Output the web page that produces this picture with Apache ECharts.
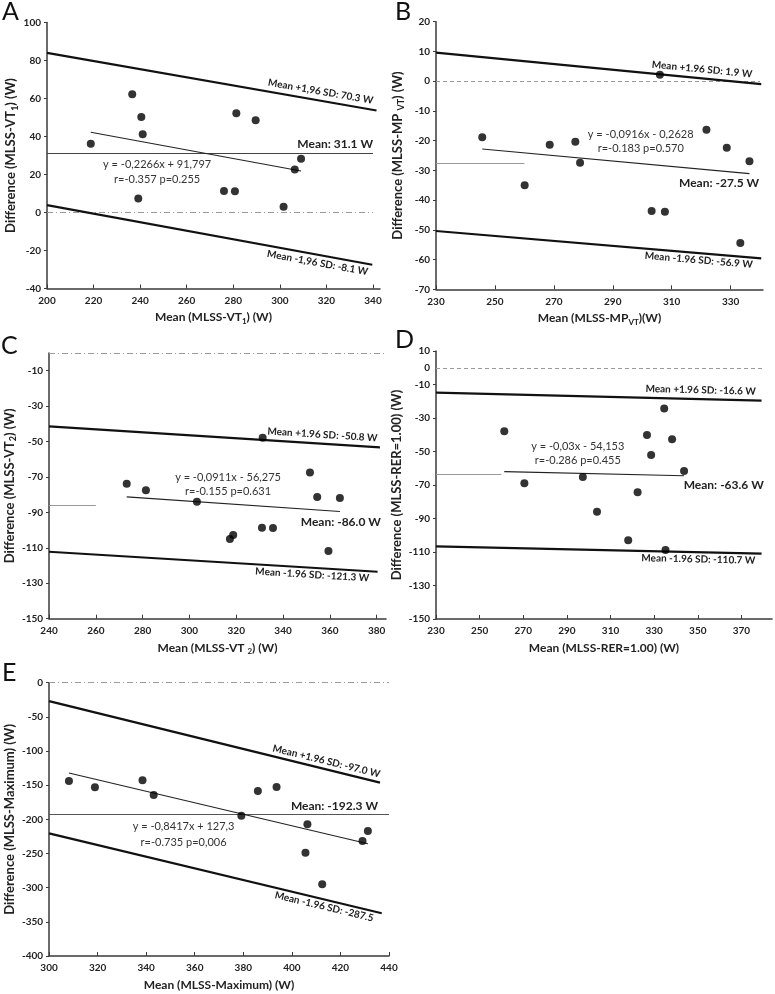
<!DOCTYPE html>
<html>
<head>
<meta charset="utf-8">
<title>Bland-Altman plots MLSS</title>
<script src="https://cdn.jsdelivr.net/npm/echarts@6/dist/echarts.min.js"></script>
<style>
  html, body { margin: 0; padding: 0; background: #fff; }
  #chart { width: 775px; height: 994px; }
</style>
</head>
<body>
<div id="chart"></div>
<script>
// ---- A: MLSS - VT1
var aMean = [218.8, 236.6, 240.5, 241.1, 239.2, 281.3, 289.6, 276.0, 280.7, 301.6, 306.4, 309.1];
var aDiff = [36.2, 62.3, 50.2, 41.2, 7.4, 52.3, 48.6, 11.3, 11.2, 3.0, 22.6, 28.3];
var aXTicks = [200, 220, 240, 260, 280, 300, 320, 340];
var aYTicks = [-40, -20, 0, 20, 40, 60, 80, 100];
var aUpper = [[200, 84.0], [341.5, 53.7]];
var aLower = [[200, 3.9], [339.7, -27.5]];
var aFit = [[218.8, 42.2], [309.1, 21.8]];
var aBias = [[200, 31.1], [340, 31.1]];
var aZero = [[200, 0], [340, 0]];

// ---- B: MLSS - MP VT
var bMean = [245.7, 260.1, 268.6, 277.3, 278.9, 306.0, 303.2, 307.7, 321.8, 328.7, 336.4, 333.3];
var bDiff = [-18.9, -35.0, -21.4, -20.4, -27.4, 2.2, -43.7, -43.9, -16.3, -22.4, -26.9, -54.4];
var bXTicks = [230, 250, 270, 290, 310, 330];
var bYTicks = [-70, -60, -50, -40, -30, -20, -10, 0, 10, 20];
var bUpper = [[230, 9.6], [340.4, -1.0]];
var bLower = [[230, -50.4], [340.4, -59.6]];
var bFit = [[245.7, -22.8], [336.4, -31.1]];
var bBias = [[230, -27.5], [260, -27.5]];
var bZero = [[230, 0], [340, 0]];

// ---- C: MLSS - VT2
var cMean = [273.2, 281.4, 303.2, 317.3, 318.7, 331.0, 335.7, 331.3, 351.5, 354.6, 364.3, 359.4];
var cDiff = [-73.8, -77.5, -84.0, -105.0, -102.8, -98.6, -98.8, -47.8, -67.4, -81.3, -81.9, -111.8];
var cXTicks = [240, 260, 280, 300, 320, 340, 360, 380];
var cYTicks = [-150, -130, -110, -90, -70, -50, -30, -10];
var cUpper = [[240, -41.4], [381.4, -53.3]];
var cLower = [[240, -112.2], [380.4, -123.5]];
var cFit = [[273.2, -81.2], [364.3, -89.5]];
var cBias = [[240, -86.0], [260, -86.0]];
var cZero = [[240, 0], [384, 0]];

// ---- D: MLSS - RER=1.00
var dMean = [261.3, 270.5, 297.3, 303.8, 318.1, 322.4, 326.7, 328.6, 334.6, 338.2, 343.7, 335.2];
var dDiff = [-37.9, -69.0, -65.2, -85.9, -103.0, -74.3, -40.1, -52.1, -24.3, -42.7, -61.6, -108.8];
var dXTicks = [230, 250, 270, 290, 310, 330, 350, 370];
var dYTicks = [-150, -130, -110, -90, -70, -50, -30, -10, 10];
var dYLabels = [-150, -130, -110, -90, -70, -50, -30, -10, 0, 10];
var dUpper = [[230, -14.8], [379.2, -19.6]];
var dLower = [[230, -106.6], [379.2, -111.0]];
var dFit = [[261.3, -62.0], [343.7, -64.5]];
var dBias = [[230, -63.6], [260, -63.6]];
var dZero = [[230, 0], [380, 0]];

// ---- E: MLSS - Maximum
var eMean = [308.2, 318.9, 338.5, 343.1, 379.2, 386.0, 393.7, 406.4, 405.6, 412.5, 429.1, 431.3];
var eDiff = [-143.9, -153.1, -142.9, -164.3, -194.6, -158.5, -152.6, -207.3, -248.8, -295.1, -231.7, -217.0];
var eXTicks = [300, 320, 340, 360, 380, 400, 420, 440];
var eYTicks = [-400, -350, -300, -250, -200, -150, -100, -50, 0];
var eUpper = [[300, -27.0], [436.3, -146.3]];
var eLower = [[300, -220.5], [437, -337.5]];
var eFit = [[308.2, -132.1], [431.3, -235.7]];
var eBias = [[300, -192.3], [440, -192.3]];
var eZero = [[300, 0], [440, 0]];

var FONT = 'Lato';
var INK = '#222';
var DASH = [4, 3];
var DASHDOT = [6, 3, 1, 3];

var panels = [
  {
    letter: 'A', letterAt: [2, -1],
    grid: { left: 47, top: 22.5, width: 333, height: 266 },
    xRange: [200, 343], yRange: [-40, 100],
    xTicks: aXTicks, yTicks: aYTicks, yLabels: aYTicks,
    xName: 'Mean (MLSS-VT{s|1}) (W)', yName: 'Difference (MLSS-VT{s|1}) (W)', yGap: 26,
    mean: aMean, diff: aDiff, upper: aUpper, lower: aLower, fit: aFit, bias: aBias, zero: aZero,
    zeroType: DASHDOT, biasColor: '#444',
    upperText: 'Mean +1,96 SD: 70.3 W', upperDist: [5, 4],
    lowerText: 'Mean -1,96 SD: -8.1 W', lowerDist: [3, 3],
    biasText: 'Mean: 31.1 W', biasDist: [0, 3],
    eqText: 'y = -0,2266x + 91,797\nr=-0.357 p=0.255', eqAt: [247.3, 21.0], eqLH: 14.3
  },
  {
    letter: 'B', letterAt: [395, -1],
    grid: { left: 436, top: 21.7, width: 327, height: 267.6 },
    xRange: [230, 341], yRange: [-70, 20],
    xTicks: bXTicks, yTicks: bYTicks, yLabels: bYTicks,
    xName: 'Mean (MLSS-MP{s|VT})(W)', yName: 'Difference (MLSS-MP {s|VT}) (W)', yGap: 30,
    mean: bMean, diff: bDiff, upper: bUpper, lower: bLower, fit: bFit, bias: bBias, zero: bZero,
    zeroType: DASH, biasColor: '#999',
    upperText: 'Mean +1.96 SD: 1.9 W', upperDist: [10, 4],
    lowerText: 'Mean -1.96 SD: -56.9 W', lowerDist: [8, 2],
    biasText: 'Mean: -27.5 W', biasAt: [326.1, -34.6],
    eqText: 'y = -0,0916x - 0,2628\nr=-0.183 p=0.570', eqAt: [299.5, -20.5], eqLH: 14
  },
  {
    letter: 'C', letterAt: [1, 333],
    grid: { left: 46, top: 353, width: 340, height: 265.7 },
    xRange: [240, 384], yRange: [-150, 0],
    xTicks: cXTicks, yTicks: cYTicks, yLabels: cYTicks,
    xName: 'Mean (MLSS-VT {s|2}) (W)', yName: 'Difference (MLSS-VT{s|2}) (W)', yGap: 26,
    mean: cMean, diff: cDiff, upper: cUpper, lower: cLower, fit: cFit, bias: cBias, zero: cZero,
    zeroType: DASHDOT, biasColor: '#999',
    upperText: 'Mean +1.96 SD: -50.8 W', upperDist: [3, 4],
    lowerText: 'Mean -1.96 SD: -121.3 W', lowerDist: [8, 2],
    biasText: 'Mean: -86.0 W', biasAt: [364.7, -95.8],
    eqText: 'y = -0,0911x - 56,275\nr=-0.155 p=0.631', eqAt: [316.5, -74.5], eqLH: 13.4
  },
  {
    letter: 'D', letterAt: [395, 327],
    grid: { left: 436, top: 351, width: 336, height: 268 },
    xRange: [230, 384], yRange: [-150, 10],
    xTicks: dXTicks, yTicks: dYTicks, yLabels: dYLabels,
    xName: 'Mean (MLSS-RER=1.00) (W)', yName: 'Difference (MLSS-RER=1.00) (W)', yGap: 29,
    mean: dMean, diff: dDiff, upper: dUpper, lower: dLower, fit: dFit, bias: dBias, zero: dZero,
    zeroType: DASH, biasColor: '#999',
    upperText: 'Mean +1.96 SD: -16.6 W', upperDist: [6, 4],
    lowerText: 'Mean -1.96 SD: -110.7 W', lowerDist: [6, 2],
    biasText: 'Mean: -63.6 W', biasAt: [361.9, -70.2],
    eqText: 'y = -0,03x - 54,153\nr=-0.286 p=0.455', eqAt: [295, -51.5], eqLH: 14.5
  },
  {
    letter: 'E', letterAt: [2, 660],
    grid: { left: 46, top: 682.7, width: 343, height: 273.3 },
    xRange: [300, 440], yRange: [-400, 0],
    xTicks: eXTicks, yTicks: eYTicks, yLabels: eYTicks,
    xName: 'Mean (MLSS-Maximum) (W)', yName: 'Difference (MLSS-Maximum) (W)', yGap: 26,
    mean: eMean, diff: eDiff, upper: eUpper, lower: eLower, fit: eFit, bias: eBias, zero: eZero,
    zeroType: DASHDOT, biasColor: '#555',
    upperText: 'Mean +1.96 SD: -97.0 W', upperDist: [2, 3],
    lowerText: 'Mean -1.96 SD: -287.5', lowerDist: [7, 2],
    biasText: 'Mean: -192.3 W', biasDist: [11, 2],
    eqText: 'y = -0,8417x + 127,3\nr=-0.735 p=0,006', eqAt: [355.4, -222.4], eqLH: 16
  }
];

function pairs(xs, ys) {
  return xs.map(function (x, i) { return [x, ys[i]]; });
}

function nameStyle(size) {
  return {
    fontFamily: FONT, fontWeight: 'bold', fontSize: size, color: INK, lineHeight: size + 4,
    rich: { s: { fontFamily: FONT, fontWeight: 'bold', fontSize: size - 4, color: INK, lineHeight: size - 2, verticalAlign: 'bottom' } }
  };
}

function seg(points, style, label) {
  return [
    { coord: points[0], lineStyle: style, label: label || { show: false } },
    { coord: points[1] }
  ];
}

function lineLabel(text, pos, dist, size) {
  return {
    show: true, position: pos, distance: dist, formatter: text,
    fontFamily: FONT, fontWeight: 'bold', fontSize: size || 10, color: INK
  };
}

var grids = [], xAxes = [], yAxes = [], series = [], graphics = [];

panels.forEach(function (p, i) {
  grids.push(p.grid);

  xAxes.push({
    gridIndex: i, type: 'value', min: p.xRange[0], max: p.xRange[1],
    name: p.xName, nameLocation: 'middle', nameGap: 21, nameTextStyle: nameStyle(12),
    axisLine: { onZero: false, lineStyle: { color: '#3a3a3a', width: 1.5 } },
    axisTick: { inside: true, length: 4, customValues: p.xTicks, lineStyle: { color: '#3a3a3a' } },
    axisLabel: { customValues: p.xTicks, margin: 7, fontFamily: FONT, fontWeight: 'bold', fontSize: 10, color: INK },
    splitLine: { show: false }
  });

  yAxes.push({
    gridIndex: i, type: 'value', min: p.yRange[0], max: p.yRange[1],
    name: p.yName, nameLocation: 'middle', nameGap: p.yGap, nameRotate: 90, nameTextStyle: nameStyle(13),
    axisLine: { onZero: false, lineStyle: { color: '#3a3a3a', width: 1.5 } },
    axisTick: { inside: false, length: 3, customValues: p.yTicks, lineStyle: { color: '#3a3a3a' } },
    axisLabel: { customValues: p.yLabels, margin: 6, fontFamily: FONT, fontWeight: 'bold', fontSize: 10, color: INK },
    splitLine: { show: false }
  });

  var loa = { color: '#111', width: 2.2, type: 'solid' };
  var lines = [
    seg(p.zero, { color: '#9a9a9a', width: 1, type: p.zeroType }),
    seg(p.bias, { color: p.biasColor, width: 1, type: 'solid' },
      p.biasDist ? lineLabel(p.biasText, 'insideEndTop', p.biasDist, 12) : null),
    seg(p.fit, { color: '#222', width: 1.1, type: 'solid' }),
    seg(p.upper, loa, lineLabel(p.upperText, 'insideEndTop', p.upperDist)),
    seg(p.lower, loa, lineLabel(p.lowerText, 'insideEndBottom', p.lowerDist))
  ];

  var notes = [{
    coord: p.eqAt, symbolSize: 1, itemStyle: { color: 'transparent' },
    label: { show: true, position: 'inside', formatter: p.eqText, align: 'center',
      fontFamily: FONT, fontSize: 11, lineHeight: p.eqLH, color: '#333' }
  }];
  if (p.biasAt) {
    notes.push({
      coord: p.biasAt, symbolSize: 1, itemStyle: { color: 'transparent' },
      label: { show: true, position: 'inside', formatter: p.biasText,
        fontFamily: FONT, fontWeight: 'bold', fontSize: 12, color: INK }
    });
  }

  series.push({
    type: 'scatter', name: p.letter, xAxisIndex: i, yAxisIndex: i,
    data: pairs(p.mean, p.diff),
    symbol: 'circle', symbolSize: 8,
    itemStyle: { color: '#000' },
    z: 5,
    markLine: { silent: true, symbol: ['none', 'none'], animation: false, data: lines },
    markPoint: { silent: true, animation: false, data: notes }
  });

  graphics.push({
    type: 'text', left: p.letterAt[0], top: p.letterAt[1],
    style: { text: p.letter, font: '25px ' + FONT, fill: '#111' }
  });
});

var chart = echarts.init(document.getElementById('chart'));
chart.setOption({
  animation: false,
  backgroundColor: '#fff',
  grid: grids,
  xAxis: xAxes,
  yAxis: yAxes,
  series: series,
  graphic: graphics
});
</script>
</body>
</html>
